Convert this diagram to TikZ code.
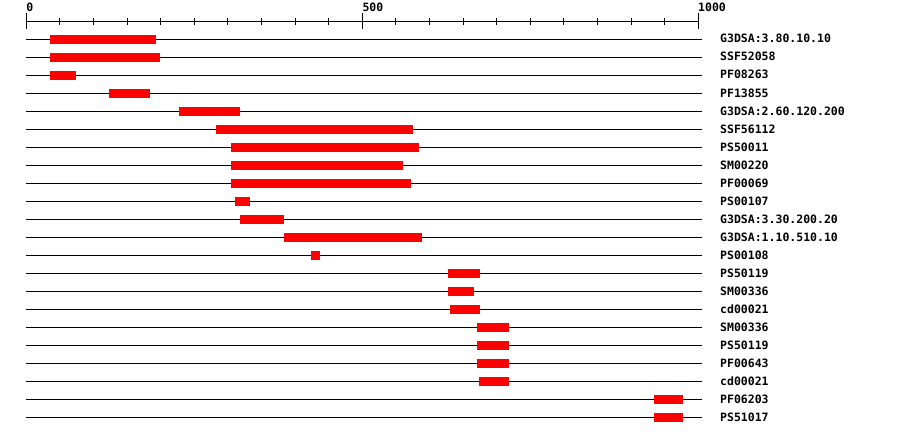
\documentclass[tikz,border=0pt]{standalone}
\usepackage{fontspec}
\newfontfamily\monob{DejaVu Sans Mono}
\begin{document}
\begin{tikzpicture}[x=1pt,y=-1pt,
  lbl/.style={anchor=base west, font=\monob\bfseries\fontsize{11.5}{12}\selectfont, inner sep=0pt},
  axlbl/.style={anchor=base west, font=\monob\bfseries\fontsize{11.5}{12}\selectfont, inner sep=0pt},
  bar/.style={fill=red, draw=none},
  track/.style={line width=1pt, black},
  axisline/.style={line width=1pt, black}]
\useasboundingbox (0,0) rectangle (900,436);
% axis
\coordinate (ax0) at (26,21.5);
\coordinate (ax1000) at (699,21.5);
\draw[axisline] (ax0) -- (ax1000);
\foreach \i in {0,...,20}{
  \pgfmathsetmacro{\xx}{floor(26.3+33.6*\i)+0.5}
  \pgfmathtruncatemacro{\mj}{mod(\i,10)}
  \ifnum\mj=0
    \draw[axisline] (\xx,13) -- (\xx,29);
  \else
    \draw[axisline] (\xx,18) -- (\xx,25);
  \fi
}
\node[axlbl] (l0) at (26.3,12) {0};
\node[axlbl] (l500) at (362.3,12) {500};
\node[axlbl] (l1000) at (698,12) {1000};
% rows
\foreach \n/\s/\e/\t in {
 1/50/156/G3DSA:3.80.10.10,
 2/50/160/SSF52058,
 3/50/76/PF08263,
 4/109/150/PF13855,
 5/179/240/G3DSA:2.60.120.200,
 6/216/413/SSF56112,
 7/231/419/PS50011,
 8/231/403/SM00220,
 9/231/411/PF00069,
 10/235/250/PS00107,
 11/240/284/G3DSA:3.30.200.20,
 12/284/422/G3DSA:1.10.510.10,
 13/311/320/PS00108,
 14/448/480/PS50119,
 15/448/474/SM00336,
 16/450/480/cd00021,
 17/477/509/SM00336,
 18/477/509/PS50119,
 19/477/509/PF00643,
 20/479/509/cd00021,
 21/654/683/PF06203,
 22/654/683/PS51017}{
  \pgfmathsetmacro{\yy}{39+18*(\n-1)}
  \coordinate (t\n a) at (26,\yy+0.5);
  \coordinate (t\n b) at (702,\yy+0.5);
  \draw[track] (t\n a) -- (t\n b);
  \fill[bar] (\s,\yy-4) rectangle (\e,\yy+5);
  \node[lbl] (r\n) at (720,\yy+4) {\t};
}
\end{tikzpicture}
\end{document}
